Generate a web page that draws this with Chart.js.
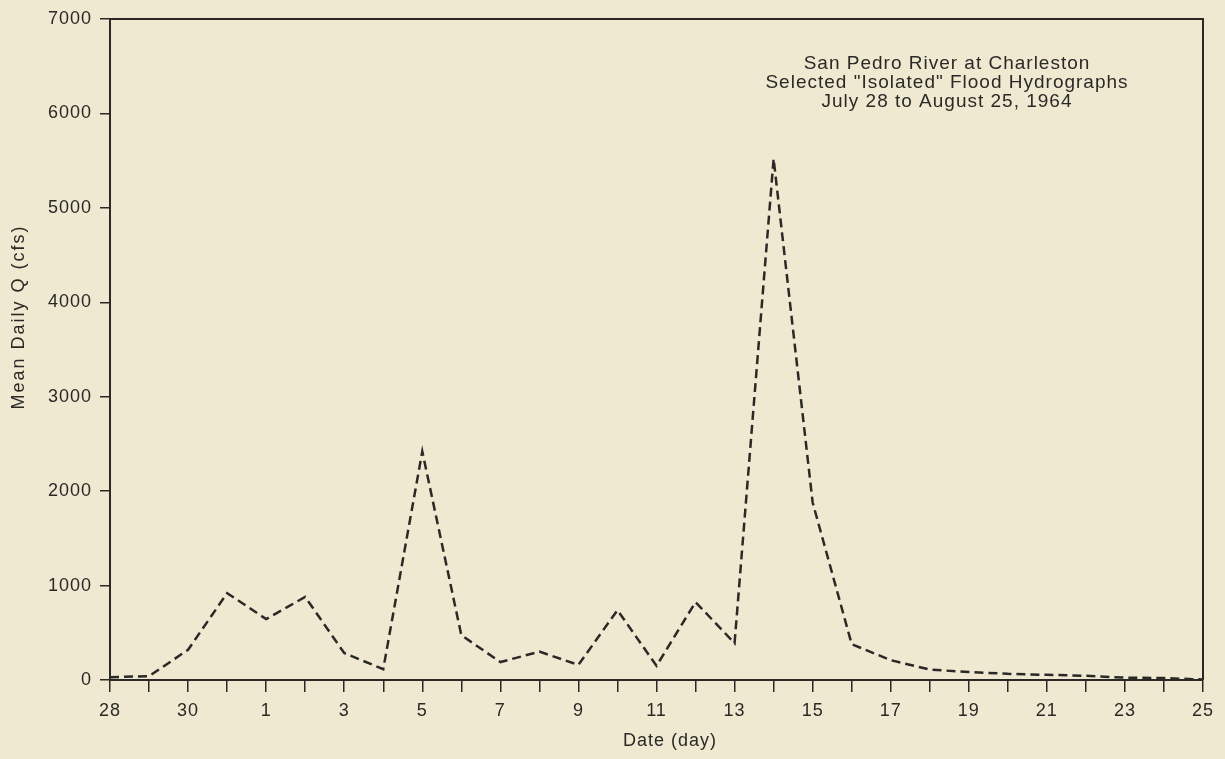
<!DOCTYPE html>
<html>
<head>
<meta charset="utf-8">
<script src="https://cdn.jsdelivr.net/npm/chart.js@4/dist/chart.umd.min.js"></script>
<style>
  html, body { margin: 0; padding: 0; background: #efe9d2; }
  #wrap { width: 1225px; height: 759px; }
</style>
</head>
<body>
<div id="wrap"><canvas id="hydroChart" width="1225" height="759"></canvas></div>
<script>
// July 28 .. August 25, 1964
const days = ['28', '29', '30', '31', '1', '2', '3', '4', '5', '6', '7', '8', '9', '10',
  '11', '12', '13', '14', '15', '16', '17', '18', '19', '20', '21', '22', '23', '24', '25'];
const meanQ = [30, 40, 320, 920, 645, 880, 285, 115, 2420, 475, 190, 300, 160, 740,
  150, 825, 390, 5520, 1880, 380, 210, 110, 85, 65, 55, 45, 25, 20, 5];
const yTicks = [0, 1000, 2000, 3000, 4000, 5000, 6000, 7000];
const titleLines = ['San Pedro River at Charleston', 'Selected "Isolated" Flood Hydrographs', 'July 28 to August 25, 1964'];
const yLabel = 'Mean Daily Q (cfs)';
const xLabel = 'Date (day)';

const ink = '#2b2926';
const fontFamily = '"Liberation Sans", Arial, Helvetica, sans-serif';

// the old plot font is wide, so space letters out a little
const decorations = {
  id: 'decorations',
  beforeDraw(chart) {
    chart.ctx.letterSpacing = '1px';
  },
  beforeDatasetsDraw(chart) {
    const { ctx, chartArea: a } = chart;
    ctx.save();
    ctx.strokeStyle = ink;
    ctx.lineWidth = 2;
    ctx.beginPath();
    ctx.moveTo(a.left, a.top);
    ctx.lineTo(a.right, a.top);
    ctx.lineTo(a.right, a.bottom);
    ctx.stroke();
    ctx.restore();
  },
  afterDraw(chart) {
    const { ctx } = chart;
    ctx.save();
    ctx.fillStyle = ink;
    ctx.textAlign = 'center';
    ctx.textBaseline = 'middle';
    ctx.letterSpacing = '1px';
    ctx.font = '19px ' + fontFamily;
    titleLines.forEach((t, i) => ctx.fillText(t, 947, 64 + i * 19));

    ctx.font = '18px ' + fontFamily;
    ctx.fillText(xLabel, 670, 741);

    ctx.translate(19, 317);
    ctx.rotate(-Math.PI / 2);
    ctx.letterSpacing = '2px';
    ctx.fillText(yLabel, 0, 0);
    ctx.restore();
  }
};

new Chart(document.getElementById('hydroChart'), {
  type: 'line',
  data: {
    labels: days,
    datasets: [{
      data: meanQ,
      borderColor: ink,
      borderWidth: 2.5,
      borderDash: [9, 5],
      pointRadius: 0,
      tension: 0,
      fill: false
    }]
  },
  options: {
    responsive: false,
    animation: false,
    layout: { padding: { top: 19, right: 22, left: 0, bottom: 0 } },
    plugins: {
      legend: { display: false },
      tooltip: { enabled: false }
    },
    scales: {
      x: {
        type: 'category',
        offset: false,
        grid: { drawOnChartArea: false, drawTicks: true, tickLength: 12, color: ink, lineWidth: 1.5 },
        border: { display: true, color: ink, width: 2 },
        ticks: {
          autoSkip: false,
          maxRotation: 0,
          padding: 8,
          color: ink,
          font: { family: fontFamily, size: 18 },
          callback: (v, i) => (i % 2 === 0 ? days[i] : '')
        },
        afterFit: s => { s.height = 79; }
      },
      y: {
        min: 0,
        max: 7000,
        grid: { drawOnChartArea: false, drawTicks: true, tickLength: 10, color: ink, lineWidth: 1.5 },
        border: { display: true, color: ink, width: 2 },
        ticks: {
          padding: 8,
          color: ink,
          font: { family: fontFamily, size: 18 },
          callback: v => String(v)
        },
        afterBuildTicks: s => { s.ticks = yTicks.map(v => ({ value: v })); },
        afterFit: s => { s.width = 110; }
      }
    }
  },
  plugins: [decorations]
});
</script>
</body>
</html>
